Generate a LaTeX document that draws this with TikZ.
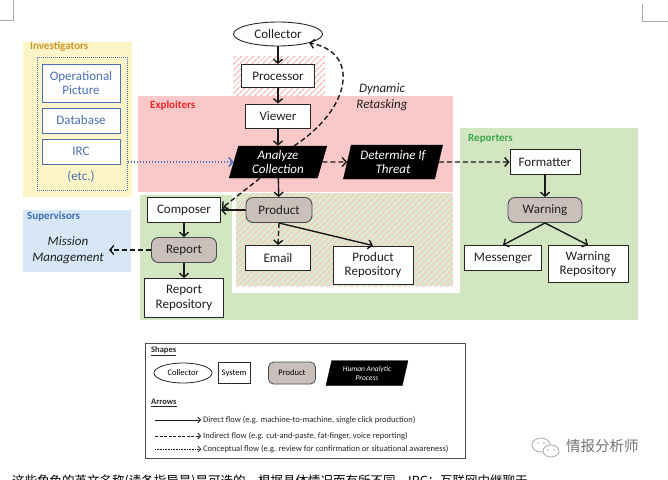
\documentclass[tikz,border=0pt]{standalone}
\usepackage{fontspec}
\setmainfont{Carlito}
\newfontfamily\cjkfont{Noto Sans CJK SC}
\usetikzlibrary{arrows.meta,shapes.geometric,patterns.meta,calc}

\definecolor{yellowbg}{HTML}{FDF5C8}
\definecolor{pinkbg}{HTML}{F9C8C8}
\definecolor{greenbg}{HTML}{D3E6C2}
\definecolor{bluebg}{HTML}{D7E7F5}
\definecolor{hatchpink}{HTML}{F6B4B2}
\definecolor{hatchbase}{HTML}{DCEACD}
\definecolor{hatchline}{HTML}{F3C9C4}
\definecolor{prodgray}{HTML}{C9C0BC}
\definecolor{invblue}{HTML}{4B70B4}
\definecolor{invgold}{HTML}{C99A2E}
\definecolor{expred}{HTML}{E8282A}
\definecolor{repgreen}{HTML}{3DA84B}
\definecolor{supblue}{HTML}{3E6DB3}
\definecolor{markgray}{HTML}{A8A8A8}

\tikzset{
  txt/.style={font=\fontsize{13}{14.5}\selectfont, align=center, text=black!88},
  sysbox/.style={txt, draw=black!85, line width=0.9pt, fill=white, inner sep=2pt},
  prodbox/.style={sysbox, fill=prodgray, draw=black!70, rounded corners=7pt},
  procbox/.style={trapezium, trapezium left angle=76, trapezium right angle=104,
    trapezium stretches=true, fill=black, draw=black, text=white, align=center,
    font=\fontsize{13}{14.5}\selectfont\itshape, inner sep=1pt},
  invbox/.style={txt, draw=invblue, text=invblue, line width=0.9pt, fill=white, inner sep=2pt},
  grouplabel/.style={anchor=west, font=\fontsize{11}{12}\selectfont\bfseries, inner sep=0pt},
  flow/.style={line width=1.4pt, draw=black!90, -{Straight Barb[length=4pt,width=9pt]}},
  indirect/.style={flow, dash pattern=on 5pt off 3pt},
  concept/.style={flow, draw=invblue, dash pattern=on 1.4pt off 1.6pt},
  legtxt/.style={anchor=west, font=\fontsize{8.5}{9.5}\selectfont, text=black!85, inner sep=1pt},
  legflow/.style={line width=0.9pt, draw=black!90, -{Straight Barb[length=2.6pt,width=6pt]}},
}

\begin{document}
\begin{tikzpicture}[x=1pt,y=-1pt]
\useasboundingbox (0,0) rectangle (668,479);

% page corner marks
\draw[markgray, line width=0.6pt] (0,20.5) -- (13,20.5) -- (13,0);
\draw[markgray, line width=0.6pt] (642,4) -- (642,21) -- (668,21);

% ---------- group backgrounds ----------
\fill[yellowbg] (23,42) rectangle (132,197);
\fill[bluebg] (23,210) rectangle (131,272);
\fill[pinkbg] (138,96) rectangle (453,192);
\fill[white] (233,56) rectangle (325,96);
\fill[pattern={Lines[angle=45,distance=4pt,line width=1.3pt]}, pattern color=hatchpink]
  (233,56) rectangle (325,96);
\fill[greenbg] (140,195) rectangle (460,320);
\fill[greenbg] (460,128) rectangle (638,320);
\fill[white] (232,192) rectangle (460,293);
\fill[hatchbase] (236,193) rectangle (453,286);
\fill[pattern={Lines[angle=45,distance=4pt,line width=1.6pt]}, pattern color=hatchline]
  (236,193) rectangle (453,286);

\node[grouplabel, text=invgold] (lblinv) at (30,47) {Investigators};
\node[grouplabel, text=expred] (lblexp) at (150,106) {Exploiters};
\node[grouplabel, text=repgreen] (lblrep) at (468,139) {Reporters};
\node[grouplabel, text=supblue] (lblsup) at (27,217) {Supervisors};

% ---------- investigators ----------
\node[draw=invblue, dash pattern=on 1pt off 1pt, line width=1pt,
      minimum width=90pt, minimum height=133pt, inner sep=0pt] (invgrp) at (82,123.5) {};
\node[invbox, minimum width=78pt, minimum height=38pt] (op) at (81,83) {Operational\\Picture};
\node[invbox, minimum width=78pt, minimum height=25pt] (db) at (81,120.5) {Database};
\node[invbox, minimum width=78pt, minimum height=25pt] (irc) at (81,151.5) {IRC};
\node[txt, text=invblue] (etc) at (81,177) {(etc.)};

% ---------- main chain ----------
\node[txt, ellipse, draw=black!85, line width=0.9pt, fill=white,
      minimum width=89pt, minimum height=24pt, inner sep=0pt] (col) at (278,34) {Collector};
\node[sysbox, minimum width=73pt, minimum height=23pt] (prc) at (278,76) {Processor};
\node[sysbox, minimum width=65pt, minimum height=24pt] (vw) at (278,116) {Viewer};
\node[procbox, minimum width=98pt, minimum height=32pt] (ac) at (278,162) {Analyze\\Collection};
\node[procbox, minimum width=100pt, minimum height=34pt] (dt) at (393,162) {Determine If\\Threat};
\node[txt, font=\fontsize{13}{16}\selectfont\itshape] (dyn) at (382,97) {Dynamic\\Retasking};

% ---------- reporters ----------
\node[sysbox, minimum width=70pt, minimum height=25pt] (fmt) at (545,162) {Formatter};
\node[prodbox, minimum width=74pt, minimum height=25pt] (wrn) at (545,210) {Warning};
\node[sysbox, minimum width=77pt, minimum height=25pt] (msg) at (503,258) {Messenger};
\node[sysbox, minimum width=80pt, minimum height=37pt] (wrep) at (588,264) {Warning\\Repository};

% ---------- exploiter outputs ----------
\node[sysbox, minimum width=73pt, minimum height=25pt] (cmp) at (184,210) {Composer};
\node[prodbox, minimum width=66pt, minimum height=25pt] (prd) at (279,210) {Product};
\node[prodbox, minimum width=65pt, minimum height=25pt] (rpt) at (184,250) {Report};
\node[sysbox, minimum width=79pt, minimum height=39pt] (rrep) at (184,298) {Report\\Repository};
\node[sysbox, minimum width=65pt, minimum height=25pt] (eml) at (278,258) {Email};
\node[sysbox, minimum width=80pt, minimum height=38pt] (prep) at (373,265) {Product\\Repository};
\node[txt, font=\fontsize{13}{16.5}\selectfont\itshape, inner xsep=5pt] (mm) at (68,250) {Mission\\Management};

% ---------- connectors ----------
\draw[flow] (col) -- (prc);
\draw[flow] (prc) -- (vw);
\draw[flow] (vw) -- (ac);
\draw[flow] (ac) -- (prd);
\draw[indirect] (ac.east) -- (dt.west);
\draw[indirect] (dt.east) -- (fmt.west);
\draw[concept] (invgrp.east |- ac.west) -- (ac.west);
\draw[indirect] (ac.north east) .. controls (352,108) and (360,52) .. (col.-16);
\draw[indirect] ($(ac.south)+(-18,0)$) -- ($(cmp.east)+(1,-2)$);
\draw[flow] (prd.west) -- (cmp.east);
\draw[flow] (cmp) -- (rpt);
\draw[indirect] (rpt.west) -- (mm.east);
\draw[flow] (rpt) -- (rrep);
\draw[indirect] (prd.south) -- (eml.north);
\draw[flow] (prd.south) -- (prep.north);
\draw[flow] (fmt) -- (wrn);
\draw[flow] (wrn.south) -- (msg.north);
\draw[flow] (wrn.south) -- (wrep.north);

% ---------- legend ----------
\node[draw=black!70, line width=0.9pt, minimum width=320pt, minimum height=115pt, inner sep=0pt] (leg) at (305,400.5) {};
\node[legtxt, font=\fontsize{8.5}{9.5}\selectfont\bfseries] (legshapes) at (150,351) {\underline{Shapes}};
\node[ellipse, draw=black!85, line width=0.8pt, minimum width=58pt, minimum height=20pt, inner sep=0pt,
      font=\fontsize{8.5}{9.5}\selectfont] (legcol) at (183,373) {Collector};
\node[draw=black!85, line width=0.8pt, minimum width=32pt, minimum height=21pt, inner sep=0pt,
      font=\fontsize{8.5}{9.5}\selectfont] (legsys) at (234,373) {System};
\node[draw=black!70, fill=prodgray, rounded corners=5pt, line width=0.8pt, minimum width=47pt, minimum height=22pt, inner sep=0pt,
      font=\fontsize{8.5}{9.5}\selectfont] (legprd) at (292,373) {Product};
\node[procbox, minimum width=82pt, minimum height=25pt, font=\fontsize{7.5}{9}\selectfont\itshape] (legproc) at (367,373) {Human Analytic\\Process};
\node[legtxt, font=\fontsize{8.5}{9.5}\selectfont\bfseries] (legarrows) at (150,403) {\underline{Arrows}};
\coordinate (l1s) at (155,420); \coordinate (l1e) at (201,420);
\coordinate (l2s) at (155,436); \coordinate (l2e) at (201,436);
\coordinate (l3s) at (155,449); \coordinate (l3e) at (201,449);
\draw[legflow] (l1s) -- (l1e);
\draw[legflow, dash pattern=on 3pt off 1.5pt] (l2s) -- (l2e);
\draw[legflow, dash pattern=on 0.8pt off 0.8pt, line width=0.7pt] (l3s) -- (l3e);
\node[legtxt] (legt1) at (202,420) {Direct flow (e.g. machine-to-machine,\ single click production)};
\node[legtxt] (legt2) at (202,436) {Indirect flow (e.g. cut-and-paste, fat-finger, voice reporting)};
\node[legtxt] (legt3) at (202,449) {Conceptual flow (e.g. review for confirmation or situational awareness)};

% ---------- watermark ----------
\draw[markgray, line width=0.8pt] (541,445) ellipse [x radius=9pt, y radius=7pt];
\draw[markgray, line width=0.8pt, fill=white] (551,451) ellipse [x radius=8pt, y radius=6pt];
\fill[markgray] (538,443) circle (0.9pt) (544,443) circle (0.9pt) (548,450) circle (0.8pt) (554,450) circle (0.8pt);
\node[anchor=west, inner sep=0pt, text=black!55, font=\cjkfont\fontsize{14.5}{16}\selectfont] (wm) at (566,446) {情报分析师};

% ---------- caption line, cut at the page edge ----------
\begin{scope}
\clip (0,0) rectangle (668,479);
\node[anchor=base west, inner sep=0pt, text=black, font=\cjkfont\fontsize{12.5}{14}\selectfont] (cap) at (12,485.5)
  {这些角色的英文名称(请各指导是)是可选的，根据具体情况而有所不同，IRC：互联网中继聊天。};
\end{scope}
\end{tikzpicture}
\end{document}
